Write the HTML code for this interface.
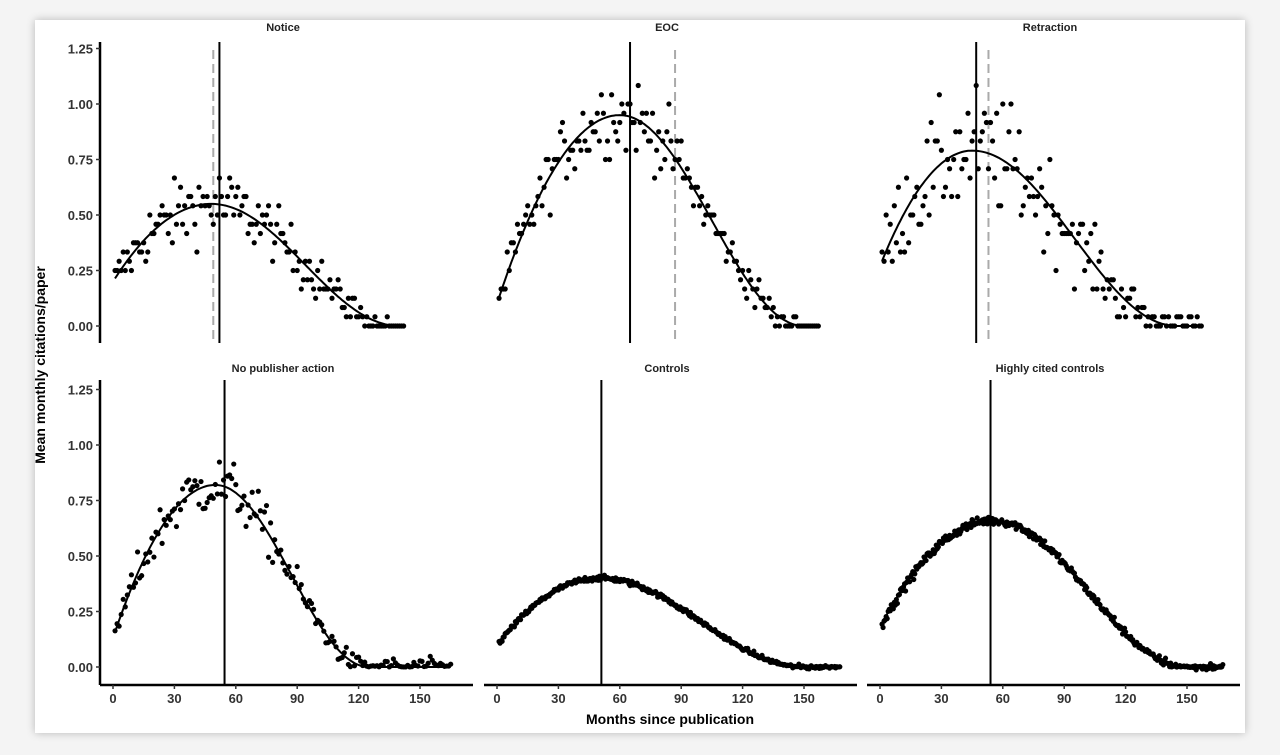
<!DOCTYPE html>
<html><head><meta charset="utf-8"><style>
html,body{margin:0;padding:0;background:#f4f4f4;width:1280px;height:755px;overflow:hidden}
#card{position:absolute;left:35px;top:20px;width:1210px;height:713px;background:#fff;box-shadow:0 0 8px rgba(0,0,0,0.25)}
svg{position:absolute;left:0;top:0}
text{font-family:"Liberation Sans",sans-serif;font-weight:bold}
</style></head><body>
<div id="card"></div>
<svg id="s" width="1280" height="755" xmlns="http://www.w3.org/2000/svg">
<text x="45" y="365" transform="rotate(-90 45 365)" text-anchor="middle" font-size="14" fill="#000">Mean monthly citations/paper</text>
<text x="670" y="724" text-anchor="middle" font-size="14" fill="#000">Months since publication</text>
</svg>
<script>
var s=document.getElementById('s');var NS='http://www.w3.org/2000/svg';
function el(t,a,txt){var e=document.createElementNS(NS,t);for(var k in a)e.setAttribute(k,a[k]);if(txt!==undefined)e.textContent=txt;s.appendChild(e);return e;}
var seed=12345;function rnd(){seed=(seed*1103515245+12345)%2147483648;return seed/2147483648;}
function gauss(){return (rnd()+rnd()+rnd()+rnd()-2)*1.2;}
var x0s=[113,497,880],sc=307/150;
var rows=[{y0:326,top:42,bot:343,strip:31},{y0:667,top:380,bot:685,strip:372}];
var panels=[
 {r:0,c:0,t:"Notice",a:0.2,p:0.55,pk:48,z:140,max:142,n:0.1,q:1,sol:52,dash:49},
 {r:0,c:1,t:"EOC",a:0.1,p:0.95,pk:60,z:150,max:157,n:0.11,q:1,sol:65,dash:87},
 {r:0,c:2,t:"Retraction",a:0.27,p:0.79,pk:45,z:145,max:157,n:0.17,q:1,sol:47,dash:53},
 {r:1,c:0,t:"No publisher action",a:0.13,p:0.82,pk:50,z:125,max:165,n:0.08,q:0,sol:54.5},
 {r:1,c:1,t:"Controls",a:0.1,p:0.4,pk:50,z:150,max:167,n:0.008,q:0,sol:51},
 {r:1,c:2,t:"Highly cited controls",a:0.18,p:0.66,pk:55,z:150,max:167,n:0.014,q:0,sol:54}];
function f(P,m){if(m<P.pk){var u=(P.pk-m)/P.pk;return P.p-(P.p-P.a)*u*u;}if(m>P.z)return 0;return P.p*(1+Math.cos(Math.PI*(m-P.pk)/(P.z-P.pk)))/2;}
rows.forEach(function(R,ri){
 el('line',{x1:100,y1:R.top,x2:100,y2:R.bot,stroke:'#000','stroke-width':2.5});
 [0,0.25,0.5,0.75,1,1.25].forEach(function(v){var y=R.y0-v*222;
  el('line',{x1:96,y1:y,x2:100,y2:y,stroke:'#333','stroke-width':1.5});
  el('text',{x:93,y:y+5,'text-anchor':'end','font-size':13,fill:'#333'},v.toFixed(2));});
});
panels.forEach(function(P){
 var R=rows[P.r],x0=x0s[P.c];var X=function(m){return x0+m*sc;},Y=function(v){return R.y0-v*222;};
 el('text',{x:x0+170,y:R.strip,'text-anchor':'middle','font-size':11,fill:'#222'},P.t);
 if(P.r==1){el('line',{x1:x0-13,y1:685,x2:x0+360,y2:685,stroke:'#000','stroke-width':2.5});
  [0,30,60,90,120,150].forEach(function(m){el('line',{x1:X(m),y1:685,x2:X(m),y2:689,stroke:'#333','stroke-width':1.5});
  el('text',{x:X(m),y:703,'text-anchor':'middle','font-size':13,fill:'#333'},m);});}
 if(P.dash)el('line',{x1:X(P.dash),y1:R.top+8,x2:X(P.dash),y2:R.bot,stroke:'#aaa','stroke-width':2,'stroke-dasharray':'9,5'});
 el('line',{x1:X(P.sol),y1:R.top,x2:X(P.sol),y2:R.bot,stroke:'#000','stroke-width':2});
 for(var m=1;m<=P.max;m++){var base=f(P,m);var v=base+gauss()*P.n*(0.35+base/P.p*0.8);
  if(P.r==0&&m>P.z-15)v=Math.abs(v)*0.5;
  if(P.q)v=Math.round(v*24)/24; if(v<0)v=Math.abs(v)*0.3;
  el('circle',{cx:X(m),cy:Y(v),r:2.6,fill:'#000'});
  if(P.r==1&&P.c>0){el('circle',{cx:X(m+0.5),cy:Y(f(P,m)+gauss()*P.n),r:2.6,fill:'#000'});}}
 var d='';for(var m=1;m<=P.max;m+=1){d+=(m==1?'M':'L')+X(m).toFixed(1)+','+Y(f(P,m)).toFixed(1);}
 el('path',{d:d,fill:'none',stroke:'#000','stroke-width':2});
});
</script>
</body></html>
